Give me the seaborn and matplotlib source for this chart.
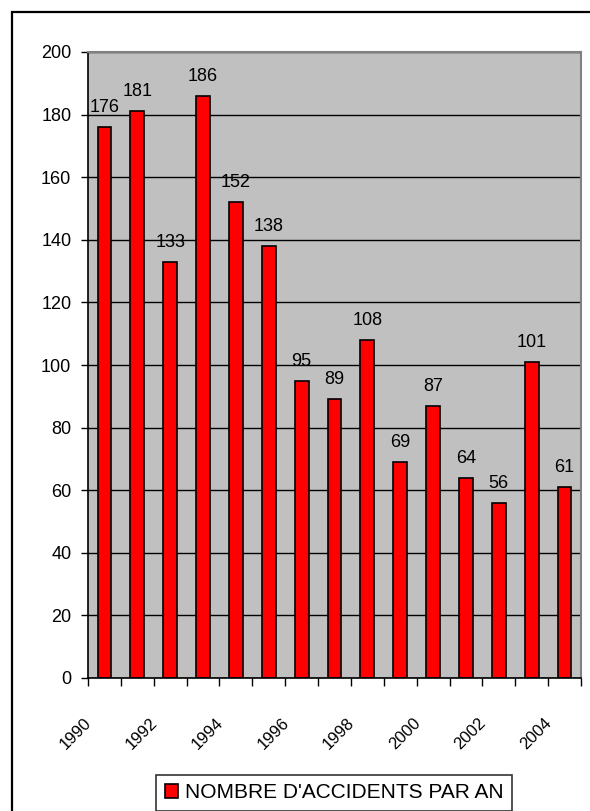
import matplotlib
matplotlib.use("Agg")
import matplotlib.pyplot as plt
from matplotlib.patches import Rectangle
import pandas as pd
import seaborn as sns

annees = [str(a) for a in range(1990, 2005)]
accidents = [176, 181, 133, 186, 152, 138, 95, 89, 108, 69, 87, 64, 56, 101, 61]
etiquettes_y = [0, 20, 40, 60, 80, 100, 120, 140, 160, 180, 200]
serie = "NOMBRE D'ACCIDENTS PAR AN"

sns.set_style("white")
plt.rcParams["font.family"] = ["Liberation Sans", "DejaVu Sans"]
plt.rcParams["text.color"] = "black"
plt.rcParams["xtick.color"] = "black"
plt.rcParams["ytick.color"] = "black"

df = pd.DataFrame({"Année": annees, "Accidents": accidents, "Série": serie})

fig = plt.figure(figsize=(5.9, 8.11), dpi=100)
ax = fig.add_axes([88 / 590, 1 - 678 / 811, (581 - 88) / 590, (678 - 52) / 811])
ax.set_facecolor("#C0C0C0")
ax.set_axisbelow(True)

sns.barplot(df, x="Année", y="Accidents", hue="Série", palette=["#FF0000"],
            saturation=1, width=0.42, edgecolor="black", linewidth=1.2, ax=ax)

for i, v in enumerate(accidents):
    ax.annotate(str(v), (i, v), xytext=(0, 8), textcoords="offset points",
                ha="center", va="bottom", fontsize=13)

ax.set_ylim(0, 200)
ax.set_xlim(-0.5, len(annees) - 0.5)
ax.set_yticks(etiquettes_y)
ax.set_yticklabels([str(v) for v in etiquettes_y], fontsize=13)
ax.yaxis.grid(True, color="black", linewidth=1)
ax.tick_params(axis="y", direction="out", length=5, width=1, left=True, pad=7)

# ticks between categories, labels every other year
ax.set_xticks([i - 0.5 for i in range(len(annees) + 1)])
ax.set_xticklabels([""] * (len(annees) + 1))
ax.tick_params(axis="x", direction="out", length=6, width=1, bottom=True)
for i in range(0, len(annees), 2):
    ax.text(i - 0.62, -12, annees[i], rotation=45, ha="right", va="top",
            rotation_mode="anchor", fontsize=12)
ax.set_xlabel("")
ax.set_ylabel("")

for cote in ["left", "bottom"]:
    ax.spines[cote].set_color("black")
    ax.spines[cote].set_linewidth(1.2)
for cote in ["top", "right"]:
    ax.spines[cote].set_color("#808080")
    ax.spines[cote].set_linewidth(1.5)

leg = ax.legend(loc="center", bbox_to_anchor=(334 / 590, 1 - 793 / 811),
                bbox_transform=fig.transFigure, frameon=True, fancybox=False,
                fontsize=15, handlelength=0.65, handleheight=0.65,
                handletextpad=0.3, borderpad=0.4, borderaxespad=0)
leg.get_frame().set_edgecolor("black")
leg.get_frame().set_linewidth(1.2)

fig.patches.append(Rectangle((12 / 590, -0.05), 1.0, 1 - 12 / 811 + 0.05,
                             transform=fig.transFigure, fill=False,
                             edgecolor="black", linewidth=1.6))

fig.savefig("out.png", dpi=100)
